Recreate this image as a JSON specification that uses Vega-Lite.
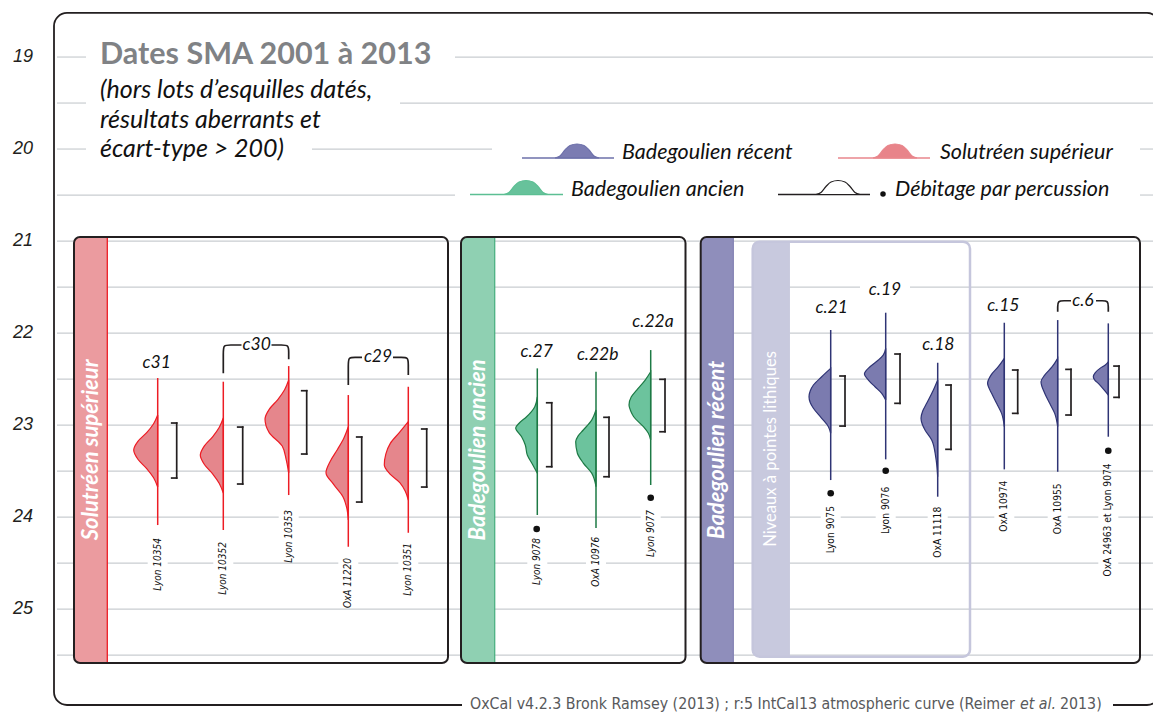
{
"$schema": "https://vega.github.io/schema/vega-lite/v6.json",
"width": 1098, "height": 713,
"padding": {"left": 55, "top": 0, "right": 0, "bottom": 0},
"autosize": {"type": "none"},
"background": "white",
"config": {"view": {"stroke": null}},
"datasets": {
"grid": [
{"a":19,"x":57,"x2":86},{"a":19,"x":455,"x2":1153},
{"a":19.5,"x":57,"x2":86},{"a":19.5,"x":400,"x2":1153},
{"a":20,"x":57,"x2":86},{"a":20,"x":312,"x2":492},{"a":20,"x":1140,"x2":1153},
{"a":20.5,"x":57,"x2":455},{"a":20.5,"x":1140,"x2":1153},
{"a":21,"x":57,"x2":1153},
{"a":21.5,"x":57,"x2":860},{"a":21.5,"x":910,"x2":1153},
{"a":22,"x":57,"x2":1153},{"a":22.5,"x":57,"x2":1153},{"a":23,"x":57,"x2":1153},{"a":23.5,"x":57,"x2":1153},
{"a":24,"x":57,"x2":278.7},{"a":24,"x":298.7,"x2":640.7},{"a":24,"x":660.7,"x2":820.7},{"a":24,"x":840.7,"x2":875.7},{"a":24,"x":895.7,"x2":927.7},{"a":24,"x":947.7,"x2":994.3},{"a":24,"x":1014.3,"x2":1047.7},{"a":24,"x":1067.7,"x2":1098.3},{"a":24,"x":1118.3,"x2":1153},
{"a":24.5,"x":57,"x2":147.7},{"a":24.5,"x":167.7,"x2":213.3},{"a":24.5,"x":233.3,"x2":338.3},{"a":24.5,"x":358.3,"x2":398.3},{"a":24.5,"x":418.3,"x2":527.3},{"a":24.5,"x":547.3,"x2":586},{"a":24.5,"x":606,"x2":1098.3},{"a":24.5,"x":1118.3,"x2":1153},
{"a":25,"x":57,"x2":1153},{"a":25.5,"x":57,"x2":1153}
],
"ylabels": [{"t":"19","x":33,"a":19},{"t":"20","x":33,"a":20},{"t":"21","x":33,"a":21},{"t":"22","x":33,"a":22},{"t":"23","x":33,"a":23},{"t":"24","x":33,"a":24},{"t":"25","x":33,"a":25}],
"bands": [
{"k":"solBand","x":74,"x2":107.3,"a":20.956,"a2":25.587},
{"k":"baBand","x":461,"x2":494.7,"a":20.956,"a2":25.587},
{"k":"brBand","x":700.7,"x2":733.3,"a":20.956,"a2":25.587},
{"k":"niv","x":752.7,"x2":789.3,"a":21.007,"a2":25.518}
],
"panels": [
{"x":74,"x2":448,"a":20.956,"a2":25.587},
{"x":461,"x2":685.5,"a":20.956,"a2":25.587},
{"x":700.7,"x2":1140,"a":20.956,"a2":25.587}
],
"nivbox": [{"x":752.7,"x2":970,"a":21.007,"a2":25.518}],
"frame": [{"x":54,"x2":1160,"a":18.521,"a2":26.043}],
"cover": [{"x":462,"x2":1113,"a":25.967,"a2":26.119}],
"samples": [
{"id":"Lyon 10354","g":"sol","xs":157.7,"top":22.489,"bot":24.087,"bx":176.7,"bxl":171.7,"bt":22.978,"bb":23.576,"lt":24.228},
{"id":"Lyon 10352","g":"sol","xs":223.3,"top":22.529,"bot":24.141,"bx":242.7,"bxl":237.7,"bt":23.022,"bb":23.641,"lt":24.272},
{"id":"Lyon 10353","g":"sol","xs":288.7,"top":22.359,"bot":23.761,"bx":306.7,"bxl":301.7,"bt":22.627,"bb":23.315,"lt":23.924},
{"id":"OxA 11220","g":"sol","xs":348.3,"top":22.674,"bot":24.323,"bx":361.7,"bxl":356.7,"bt":23.13,"bb":23.837,"lt":24.446},
{"id":"Lyon 10351","g":"sol","xs":408.3,"top":22.584,"bot":24.171,"bx":426.7,"bxl":421.7,"bt":23.043,"bb":23.674,"lt":24.283},
{"id":"Lyon 9078","g":"ba","xs":537.3,"top":22.384,"bot":23.978,"bx":551.7,"bxl":546.7,"bt":22.758,"bb":23.453,"lt":24.228},
{"id":"OxA 10976","g":"ba","xs":596,"top":22.421,"bot":24.12,"bx":609,"bxl":604,"bt":22.916,"bb":23.562,"lt":24.214},
{"id":"Lyon 9077","g":"ba","xs":650.7,"top":22.185,"bot":23.652,"bx":665,"bxl":660,"bt":22.503,"bb":23.073,"lt":23.924},
{"id":"Lyon 9075","g":"br","xs":830.7,"top":21.967,"bot":23.598,"bx":845,"bxl":840,"bt":22.467,"bb":23.011,"lt":23.88},
{"id":"Lyon 9076","g":"br","xs":885.7,"top":21.779,"bot":23.373,"bx":900,"bxl":895,"bt":22.228,"bb":22.764,"lt":23.671},
{"id":"OxA 11118","g":"br","xs":937.7,"top":22.323,"bot":23.779,"bx":951,"bxl":946,"bt":22.565,"bb":23.264,"lt":23.888},
{"id":"OxA 10974","g":"br","xs":1004.3,"top":21.888,"bot":23.482,"bx":1017.7,"bxl":1012.7,"bt":22.402,"bb":22.873,"lt":23.605},
{"id":"OxA 10955","g":"br","xs":1057.7,"top":21.859,"bot":23.508,"bx":1071,"bxl":1066,"bt":22.395,"bb":22.891,"lt":23.634},
{"id":"OxA 24963 et Lyon 9074","g":"br","xs":1108.3,"top":21.895,"bot":23.127,"bx":1119,"bxl":1114,"bt":22.359,"bb":22.699,"lt":23.416}
],
"dens": [
{"id":"S1","g":"sol","a":22.891,"xl":157.7,"xs":157.7},{"id":"S1","g":"sol","a":22.986,"xl":153.6,"xs":157.7},{"id":"S1","g":"sol","a":23.082,"xl":146.7,"xs":157.7},{"id":"S1","g":"sol","a":23.177,"xl":137.9,"xs":157.7},{"id":"S1","g":"sol","a":23.272,"xl":133.7,"xs":157.7},{"id":"S1","g":"sol","a":23.372,"xl":137.9,"xs":157.7},{"id":"S1","g":"sol","a":23.473,"xl":146.7,"xs":157.7},{"id":"S1","g":"sol","a":23.573,"xl":153.6,"xs":157.7},{"id":"S1","g":"sol","a":23.674,"xl":157.7,"xs":157.7},
{"id":"S2","g":"sol","a":22.924,"xl":223.3,"xs":223.3},{"id":"S2","g":"sol","a":23.024,"xl":219.3,"xs":223.3},{"id":"S2","g":"sol","a":23.125,"xl":212.8,"xs":223.3},{"id":"S2","g":"sol","a":23.226,"xl":204.4,"xs":223.3},{"id":"S2","g":"sol","a":23.326,"xl":200.3,"xs":223.3},{"id":"S2","g":"sol","a":23.429,"xl":204.4,"xs":223.3},{"id":"S2","g":"sol","a":23.533,"xl":212.8,"xs":223.3},{"id":"S2","g":"sol","a":23.636,"xl":219.3,"xs":223.3},{"id":"S2","g":"sol","a":23.739,"xl":223.3,"xs":223.3},
{"id":"S3","g":"sol","a":22.511,"xl":288.7,"xs":288.7},{"id":"S3","g":"sol","a":22.617,"xl":284.6,"xs":288.7},{"id":"S3","g":"sol","a":22.723,"xl":277.8,"xs":288.7},{"id":"S3","g":"sol","a":22.829,"xl":269.2,"xs":288.7},{"id":"S3","g":"sol","a":22.935,"xl":265.0,"xs":288.7},{"id":"S3","g":"sol","a":23.082,"xl":269.2,"xs":288.7},{"id":"S3","g":"sol","a":23.228,"xl":282.2,"xs":288.7},{"id":"S3","g":"sol","a":23.375,"xl":286.2,"xs":288.7},{"id":"S3","g":"sol","a":23.522,"xl":288.7,"xs":288.7},
{"id":"S4","g":"sol","a":23.018,"xl":348.3,"xs":348.3},{"id":"S4","g":"sol","a":23.143,"xl":343.8,"xs":348.3},{"id":"S4","g":"sol","a":23.268,"xl":337.3,"xs":348.3},{"id":"S4","g":"sol","a":23.393,"xl":330.3,"xs":348.3},{"id":"S4","g":"sol","a":23.518,"xl":326.0,"xs":348.3},{"id":"S4","g":"sol","a":23.647,"xl":333.8,"xs":348.3},{"id":"S4","g":"sol","a":23.776,"xl":342.8,"xs":348.3},{"id":"S4","g":"sol","a":23.904,"xl":346.8,"xs":348.3},{"id":"S4","g":"sol","a":24.033,"xl":348.3,"xs":348.3},
{"id":"S5","g":"sol","a":22.964,"xl":408.3,"xs":408.3},{"id":"S5","g":"sol","a":23.082,"xl":399.3,"xs":408.3},{"id":"S5","g":"sol","a":23.199,"xl":390.3,"xs":408.3},{"id":"S5","g":"sol","a":23.317,"xl":385.8,"xs":408.3},{"id":"S5","g":"sol","a":23.435,"xl":384.3,"xs":408.3},{"id":"S5","g":"sol","a":23.53,"xl":389.8,"xs":408.3},{"id":"S5","g":"sol","a":23.625,"xl":399.8,"xs":408.3},{"id":"S5","g":"sol","a":23.72,"xl":405.3,"xs":408.3},{"id":"S5","g":"sol","a":23.815,"xl":408.3,"xs":408.3},
{"id":"S6","g":"ba","a":22.692,"xl":537.3,"xs":537.3},{"id":"S6","g":"ba","a":22.801,"xl":534.8,"xs":537.3},{"id":"S6","g":"ba","a":22.91,"xl":526.6,"xs":537.3},{"id":"S6","g":"ba","a":22.978,"xl":519.3,"xs":537.3},{"id":"S6","g":"ba","a":23.033,"xl":515.7,"xs":537.3},{"id":"S6","g":"ba","a":23.127,"xl":521.6,"xs":537.3},{"id":"S6","g":"ba","a":23.217,"xl":525.3,"xs":537.3},{"id":"S6","g":"ba","a":23.326,"xl":527.3,"xs":537.3},{"id":"S6","g":"ba","a":23.424,"xl":532.3,"xs":537.3},{"id":"S6","g":"ba","a":23.522,"xl":537.3,"xs":537.3},
{"id":"S7","g":"ba","a":22.837,"xl":596,"xs":596},{"id":"S7","g":"ba","a":22.946,"xl":591.7,"xs":596},{"id":"S7","g":"ba","a":23.054,"xl":583.3,"xs":596},{"id":"S7","g":"ba","a":23.12,"xl":578,"xs":596},{"id":"S7","g":"ba","a":23.182,"xl":575.7,"xs":596},{"id":"S7","g":"ba","a":23.304,"xl":577.3,"xs":596},{"id":"S7","g":"ba","a":23.413,"xl":583.3,"xs":596},{"id":"S7","g":"ba","a":23.522,"xl":591.7,"xs":596},{"id":"S7","g":"ba","a":23.671,"xl":596,"xs":596},
{"id":"S8","g":"ba","a":22.421,"xl":650.7,"xs":650.7},{"id":"S8","g":"ba","a":22.511,"xl":645.2,"xs":650.7},{"id":"S8","g":"ba","a":22.62,"xl":636.7,"xs":650.7},{"id":"S8","g":"ba","a":22.696,"xl":631.2,"xs":650.7},{"id":"S8","g":"ba","a":22.783,"xl":629.0,"xs":650.7},{"id":"S8","g":"ba","a":22.848,"xl":630.7,"xs":650.7},{"id":"S8","g":"ba","a":22.91,"xl":633.7,"xs":650.7},{"id":"S8","g":"ba","a":23.018,"xl":643.4,"xs":650.7},{"id":"S8","g":"ba","a":23.09,"xl":648.4,"xs":650.7},{"id":"S8","g":"ba","a":23.163,"xl":650.7,"xs":650.7},
{"id":"S9","g":"br","a":22.384,"xl":830.7,"xs":830.7},{"id":"S9","g":"br","a":22.475,"xl":821.7,"xs":830.7},{"id":"S9","g":"br","a":22.565,"xl":813.4,"xs":830.7},{"id":"S9","g":"br","a":22.63,"xl":810.2,"xs":830.7},{"id":"S9","g":"br","a":22.692,"xl":809.0,"xs":830.7},{"id":"S9","g":"br","a":22.755,"xl":810.2,"xs":830.7},{"id":"S9","g":"br","a":22.818,"xl":813.4,"xs":830.7},{"id":"S9","g":"br","a":22.927,"xl":821.7,"xs":830.7},{"id":"S9","g":"br","a":23.018,"xl":828.4,"xs":830.7},{"id":"S9","g":"br","a":23.09,"xl":830.7,"xs":830.7},
{"id":"S10","g":"br","a":22.166,"xl":885.7,"xs":885.7},{"id":"S10","g":"br","a":22.239,"xl":883.2,"xs":885.7},{"id":"S10","g":"br","a":22.293,"xl":878.4,"xs":885.7},{"id":"S10","g":"br","a":22.366,"xl":870.0,"xs":885.7},{"id":"S10","g":"br","a":22.446,"xl":864.4,"xs":885.7},{"id":"S10","g":"br","a":22.511,"xl":868.4,"xs":885.7},{"id":"S10","g":"br","a":22.584,"xl":875.0,"xs":885.7},{"id":"S10","g":"br","a":22.655,"xl":881.7,"xs":885.7},{"id":"S10","g":"br","a":22.728,"xl":885.7,"xs":885.7},
{"id":"S11","g":"br","a":22.511,"xl":937.7,"xs":937.7},{"id":"S11","g":"br","a":22.62,"xl":933.4,"xs":937.7},{"id":"S11","g":"br","a":22.764,"xl":926.7,"xs":937.7},{"id":"S11","g":"br","a":22.848,"xl":922.7,"xs":937.7},{"id":"S11","g":"br","a":22.927,"xl":921.0,"xs":937.7},{"id":"S11","g":"br","a":22.989,"xl":922.2,"xs":937.7},{"id":"S11","g":"br","a":23.054,"xl":925.0,"xs":937.7},{"id":"S11","g":"br","a":23.163,"xl":931.7,"xs":937.7},{"id":"S11","g":"br","a":23.345,"xl":935.7,"xs":937.7},{"id":"S11","g":"br","a":23.562,"xl":937.7,"xs":937.7},
{"id":"S12","g":"br","a":22.275,"xl":1004.3,"xs":1004.3},{"id":"S12","g":"br","a":22.366,"xl":998.3,"xs":1004.3},{"id":"S12","g":"br","a":22.457,"xl":991.0,"xs":1004.3},{"id":"S12","g":"br","a":22.547,"xl":987.6,"xs":1004.3},{"id":"S12","g":"br","a":22.655,"xl":991.6,"xs":1004.3},{"id":"S12","g":"br","a":22.764,"xl":996.6,"xs":1004.3},{"id":"S12","g":"br","a":22.873,"xl":1001.6,"xs":1004.3},{"id":"S12","g":"br","a":23.018,"xl":1004.3,"xs":1004.3},
{"id":"S13","g":"br","a":22.275,"xl":1057.7,"xs":1057.7},{"id":"S13","g":"br","a":22.366,"xl":1052.2,"xs":1057.7},{"id":"S13","g":"br","a":22.457,"xl":1044.7,"xs":1057.7},{"id":"S13","g":"br","a":22.529,"xl":1041.0,"xs":1057.7},{"id":"S13","g":"br","a":22.655,"xl":1044.7,"xs":1057.7},{"id":"S13","g":"br","a":22.764,"xl":1049.7,"xs":1057.7},{"id":"S13","g":"br","a":22.873,"xl":1054.7,"xs":1057.7},{"id":"S13","g":"br","a":23.018,"xl":1057.7,"xs":1057.7},
{"id":"S14","g":"br","a":22.312,"xl":1108.3,"xs":1108.3},{"id":"S14","g":"br","a":22.348,"xl":1105.3,"xs":1108.3},{"id":"S14","g":"br","a":22.384,"xl":1100.0,"xs":1108.3},{"id":"S14","g":"br","a":22.429,"xl":1095.3,"xs":1108.3},{"id":"S14","g":"br","a":22.475,"xl":1093.3,"xs":1108.3},{"id":"S14","g":"br","a":22.511,"xl":1094.8,"xs":1108.3},{"id":"S14","g":"br","a":22.547,"xl":1098.3,"xs":1108.3},{"id":"S14","g":"br","a":22.62,"xl":1104.3,"xs":1108.3},{"id":"S14","g":"br","a":22.674,"xl":1108.3,"xs":1108.3}
],
"dots": [{"x":536.7,"a":24.13},{"x":650.7,"a":23.79},{"x":830.7,"a":23.742},{"x":885.7,"a":23.497},{"x":1108.3,"a":23.279}],
"groups": [
{"t":"c31","x":156.7,"a":22.323},{"t":"c30","x":256.7,"a":22.13},{"t":"c29","x":378,"a":22.264},
{"t":"c.27","x":536.7,"a":22.203},{"t":"c.22b","x":597.7,"a":22.239},{"t":"c.22a","x":653,"a":21.88},
{"t":"c.21","x":831.7,"a":21.732},{"t":"c.19","x":885,"a":21.533},{"t":"c.18","x":938.3,"a":22.13},
{"t":"c.15","x":1003.3,"a":21.707},{"t":"c.6","x":1083,"a":21.649}
],
"braces": [
{"k":"c30L","o":0,"x":223.3,"a":22.438},{"k":"c30L","o":1,"x":223.3,"a":22.21},{"k":"c30L","o":2,"x":223.3,"a":22.13},{"k":"c30L","o":3,"x":230,"a":22.13},{"k":"c30L","o":4,"x":241.5,"a":22.13},
{"k":"c30R","o":0,"x":271.5,"a":22.13},{"k":"c30R","o":1,"x":282,"a":22.13},{"k":"c30R","o":2,"x":288.7,"a":22.13},{"k":"c30R","o":3,"x":288.7,"a":22.21},{"k":"c30R","o":4,"x":288.7,"a":22.286},
{"k":"c29L","o":0,"x":348.3,"a":22.565},{"k":"c29L","o":1,"x":348.3,"a":22.34},{"k":"c29L","o":2,"x":348.3,"a":22.264},{"k":"c29L","o":3,"x":355,"a":22.264},{"k":"c29L","o":4,"x":362,"a":22.264},
{"k":"c29R","o":0,"x":393,"a":22.264},{"k":"c29R","o":1,"x":401.5,"a":22.264},{"k":"c29R","o":2,"x":408.3,"a":22.264},{"k":"c29R","o":3,"x":408.3,"a":22.34},{"k":"c29R","o":4,"x":408.3,"a":22.457},
{"k":"c6L","o":0,"x":1057.7,"a":21.768},{"k":"c6L","o":1,"x":1057.7,"a":21.72},{"k":"c6L","o":2,"x":1057.7,"a":21.649},{"k":"c6L","o":3,"x":1064,"a":21.649},{"k":"c6L","o":4,"x":1071,"a":21.649},
{"k":"c6R","o":0,"x":1096,"a":21.649},{"k":"c6R","o":1,"x":1102,"a":21.649},{"k":"c6R","o":2,"x":1108.3,"a":21.649},{"k":"c6R","o":3,"x":1108.3,"a":21.72},{"k":"c6R","o":4,"x":1108.3,"a":21.768}
],
"bandtitles": [
{"t":"Solutréen supérieur","x":90.7,"a":23.27},
{"t":"Badegoulien ancien","x":477.8,"a":23.27},
{"t":"Badegoulien récent","x":717,"a":23.27}
],
"nivtitle": [{"t":"Niveaux à pointes lithiques","x":771,"a":23.26}],
"title": [{"t":"Dates SMA 2001 à 2013","x":100,"a":19.076}],
"subtitle": [
{"t":"(hors lots d’esquilles datés,","x":100,"a":19.445},
{"t":"résultats aberrants et","x":100,"a":19.771},
{"t":"écart-type > 200)","x":100,"a":20.087}
],
"lgline": [
{"k":"lgBR","x":522,"x2":614,"a":20.097},
{"k":"lgSol","x":838,"x2":930,"a":20.097},
{"k":"lgBA","x":470,"x2":563,"a":20.494},
{"k":"lgDeb","x":778,"x2":870,"a":20.494}
],
"lgbump": [
{"k":"lgBR","x":555,"a":20.097,"b":20.097},{"k":"lgBR","x":560,"a":20.075,"b":20.097},{"k":"lgBR","x":565,"a":20.01,"b":20.097},{"k":"lgBR","x":570,"a":19.961,"b":20.097},{"k":"lgBR","x":577,"a":19.945,"b":20.097},{"k":"lgBR","x":584,"a":19.961,"b":20.097},{"k":"lgBR","x":589,"a":20.01,"b":20.097},{"k":"lgBR","x":594,"a":20.075,"b":20.097},{"k":"lgBR","x":599,"a":20.097,"b":20.097},
{"k":"lgSol","x":873,"a":20.097,"b":20.097},{"k":"lgSol","x":878,"a":20.075,"b":20.097},{"k":"lgSol","x":883,"a":20.01,"b":20.097},{"k":"lgSol","x":888,"a":19.961,"b":20.097},{"k":"lgSol","x":895,"a":19.945,"b":20.097},{"k":"lgSol","x":902,"a":19.961,"b":20.097},{"k":"lgSol","x":907,"a":20.01,"b":20.097},{"k":"lgSol","x":912,"a":20.075,"b":20.097},{"k":"lgSol","x":917,"a":20.097,"b":20.097},
{"k":"lgBA","x":504,"a":20.494,"b":20.494},{"k":"lgBA","x":509,"a":20.472,"b":20.494},{"k":"lgBA","x":514,"a":20.407,"b":20.494},{"k":"lgBA","x":519,"a":20.358,"b":20.494},{"k":"lgBA","x":526,"a":20.342,"b":20.494},{"k":"lgBA","x":533,"a":20.358,"b":20.494},{"k":"lgBA","x":538,"a":20.407,"b":20.494},{"k":"lgBA","x":543,"a":20.472,"b":20.494},{"k":"lgBA","x":548,"a":20.494,"b":20.494},
{"k":"lgDeb","x":816,"a":20.494,"b":20.494},{"k":"lgDeb","x":821,"a":20.472,"b":20.494},{"k":"lgDeb","x":826,"a":20.407,"b":20.494},{"k":"lgDeb","x":831,"a":20.358,"b":20.494},{"k":"lgDeb","x":838,"a":20.342,"b":20.494},{"k":"lgDeb","x":845,"a":20.358,"b":20.494},{"k":"lgDeb","x":850,"a":20.407,"b":20.494},{"k":"lgDeb","x":855,"a":20.472,"b":20.494},{"k":"lgDeb","x":860,"a":20.494,"b":20.494}
],
"lgdot": [{"x":883,"a":20.489}],
"lgtext": [
{"t":"Badegoulien récent","x":622,"a":20.046},
{"t":"Solutréen supérieur","x":940,"a":20.046},
{"t":"Badegoulien ancien","x":571,"a":20.445},
{"t":"Débitage par percussion","x":895,"a":20.445}
],
"creditA": [{"t":"OxCal v4.2.3 Bronk Ramsey (2013) ; r:5 IntCal13 atmospheric curve (Reimer","x":470,"a":26.032}],
"creditB": [{"t":"et al.","x":1020,"a":26.032}],
"creditC": [{"t":"2013)","x":1060,"a":26.032}]
},
"layer": [
{"data":{"name":"grid"},"mark":{"type":"rule","stroke":"#c9cdd1","strokeWidth":1.2},
 "encoding":{"x":{"field":"x","type":"quantitative","scale":{"domain":[55,1153],"nice":false,"zero":false},"axis":null},"x2":{"field":"x2"},
 "y":{"field":"a","type":"quantitative","scale":{"domain":[18.38,26.13],"reverse":true,"nice":false,"zero":false},"axis":null}}},
{"data":{"name":"ylabels"},"mark":{"type":"text","align":"right","baseline":"middle","font":"Liberation Sans","fontStyle":"italic","fontSize":18,"fill":"#231f20"},
 "encoding":{"x":{"field":"x","type":"quantitative","axis":null},"y":{"field":"a","type":"quantitative","axis":null},"text":{"field":"t"}}},
{"data":{"name":"bands"},"mark":{"type":"rect","cornerRadiusTopLeft":5,"cornerRadiusBottomLeft":5},
 "encoding":{"x":{"field":"x","type":"quantitative","axis":null},"x2":{"field":"x2"},"y":{"field":"a","type":"quantitative","axis":null},"y2":{"field":"a2"},
 "fill":{"field":"k","type":"nominal","legend":null,"scale":{"domain":["sol","ba","br","solBand","baBand","brBand","niv","lgSol","lgBA","lgBR","lgDeb"],"range":["#e5868c","#6cc39d","#7b7baf","#eb9b9f","#8fd0b2","#8f8ebb","#c8c9de","#e8848a","#67c29b","#7b7cb2","#ffffff"]}}}},
{"data":{"name":"bands"},"mark":{"type":"rule","strokeWidth":1.3},
 "encoding":{"x":{"field":"x2","type":"quantitative","axis":null},"y":{"field":"a","type":"quantitative","axis":null},"y2":{"field":"a2"},
 "stroke":{"field":"k","type":"nominal","legend":null,"scale":{"domain":["sol","ba","br","solBand","baBand","brBand","niv","lgSol","lgBA","lgBR","lgDeb"],"range":["#ed1c24","#1d7a45","#2f3475","#ed1c24","#4db183","#8584b5","#c8c9de","#e9868c","#5cbf93","#6d70aa","#231f20"]}}}},
{"data":{"name":"panels"},"mark":{"type":"rect","fill":"white","fillOpacity":0,"stroke":"#231f20","strokeWidth":2,"cornerRadius":6},
 "encoding":{"x":{"field":"x","type":"quantitative","axis":null},"x2":{"field":"x2"},"y":{"field":"a","type":"quantitative","axis":null},"y2":{"field":"a2"}}},
{"data":{"name":"nivbox"},"mark":{"type":"rect","fill":"white","fillOpacity":0,"stroke":"#c5c6dc","strokeWidth":2.5,"cornerRadius":7},
 "encoding":{"x":{"field":"x","type":"quantitative","axis":null},"x2":{"field":"x2"},"y":{"field":"a","type":"quantitative","axis":null},"y2":{"field":"a2"}}},
{"data":{"name":"frame"},"mark":{"type":"rect","fill":"white","fillOpacity":0,"stroke":"#231f20","strokeWidth":1.8,"cornerRadius":13},
 "encoding":{"x":{"field":"x","type":"quantitative","axis":null},"x2":{"field":"x2"},"y":{"field":"a","type":"quantitative","axis":null},"y2":{"field":"a2"}}},
{"data":{"name":"cover"},"mark":{"type":"rect","fill":"white"},
 "encoding":{"x":{"field":"x","type":"quantitative","axis":null},"x2":{"field":"x2"},"y":{"field":"a","type":"quantitative","axis":null},"y2":{"field":"a2"}}},
{"data":{"name":"creditA"},"mark":{"type":"text","align":"left","baseline":"middle","font":"DejaVu Sans Condensed","fontSize":15.8,"fill":"#58595b"},
 "encoding":{"x":{"field":"x","type":"quantitative","axis":null},"y":{"field":"a","type":"quantitative","axis":null},"text":{"field":"t"}}},
{"data":{"name":"creditB"},"mark":{"type":"text","align":"left","baseline":"middle","font":"DejaVu Sans Condensed","fontStyle":"italic","fontSize":15.8,"fill":"#58595b"},
 "encoding":{"x":{"field":"x","type":"quantitative","axis":null},"y":{"field":"a","type":"quantitative","axis":null},"text":{"field":"t"}}},
{"data":{"name":"creditC"},"mark":{"type":"text","align":"left","baseline":"middle","font":"DejaVu Sans Condensed","fontSize":15.8,"fill":"#58595b"},
 "encoding":{"x":{"field":"x","type":"quantitative","axis":null},"y":{"field":"a","type":"quantitative","axis":null},"text":{"field":"t"}}},
{"data":{"name":"dens"},"mark":{"type":"area","orient":"horizontal","interpolate":"monotone","strokeWidth":1.2},
 "encoding":{"y":{"field":"a","type":"quantitative","axis":null},"x":{"field":"xl","type":"quantitative","axis":null},"x2":{"field":"xs"},"detail":{"field":"id"},
 "fill":{"field":"g","type":"nominal","legend":null,"scale":{"domain":["sol","ba","br","solBand","baBand","brBand","niv","lgSol","lgBA","lgBR","lgDeb"],"range":["#e5868c","#6cc39d","#7b7baf","#eb9b9f","#8fd0b2","#8f8ebb","#c8c9de","#e8848a","#67c29b","#7b7cb2","#ffffff"]}},
 "stroke":{"field":"g","type":"nominal","legend":null,"scale":{"domain":["sol","ba","br","solBand","baBand","brBand","niv","lgSol","lgBA","lgBR","lgDeb"],"range":["#ed1c24","#1d7a45","#2f3475","#ed1c24","#4db183","#8584b5","#c8c9de","#e9868c","#5cbf93","#6d70aa","#231f20"]}}}},
{"data":{"name":"samples"},"mark":{"type":"rule","strokeWidth":1.5},
 "encoding":{"x":{"field":"xs","type":"quantitative","axis":null},"y":{"field":"top","type":"quantitative","axis":null},"y2":{"field":"bot"},
 "stroke":{"field":"g","type":"nominal","legend":null,"scale":{"domain":["sol","ba","br","solBand","baBand","brBand","niv","lgSol","lgBA","lgBR","lgDeb"],"range":["#ed1c24","#1d7a45","#2f3475","#ed1c24","#4db183","#8584b5","#c8c9de","#e9868c","#5cbf93","#6d70aa","#231f20"]}}}},
{"data":{"name":"samples"},"mark":{"type":"rule","stroke":"#231f20","strokeWidth":1.7,"strokeCap":"square"},
 "encoding":{"x":{"field":"bx","type":"quantitative","axis":null},"y":{"field":"bt","type":"quantitative","axis":null},"y2":{"field":"bb"}}},
{"data":{"name":"samples"},"mark":{"type":"rule","stroke":"#231f20","strokeWidth":1.7,"strokeCap":"square"},
 "encoding":{"x":{"field":"bxl","type":"quantitative","axis":null},"x2":{"field":"bx"},"y":{"field":"bt","type":"quantitative","axis":null}}},
{"data":{"name":"samples"},"mark":{"type":"rule","stroke":"#231f20","strokeWidth":1.7,"strokeCap":"square"},
 "encoding":{"x":{"field":"bxl","type":"quantitative","axis":null},"x2":{"field":"bx"},"y":{"field":"bb","type":"quantitative","axis":null}}},
{"data":{"name":"dots"},"mark":{"type":"circle","fill":"#111","size":44,"opacity":1},
 "encoding":{"x":{"field":"x","type":"quantitative","axis":null},"y":{"field":"a","type":"quantitative","axis":null}}},
{"data":{"name":"samples"},"transform":[{"filter":"datum.g != 'br'"}],"mark":{"type":"text","angle":270,"align":"right","baseline":"middle","font":"DejaVu Sans Condensed","fontStyle":"italic","fontSize":10,"fill":"#111"},
 "encoding":{"x":{"field":"xs","type":"quantitative","axis":null},"y":{"field":"lt","type":"quantitative","axis":null},"text":{"field":"id"}}},
{"data":{"name":"samples"},"transform":[{"filter":"datum.g == 'br'"}],"mark":{"type":"text","angle":270,"align":"right","baseline":"middle","font":"DejaVu Sans Condensed","fontSize":10.2,"fill":"#111"},
 "encoding":{"x":{"field":"xs","type":"quantitative","axis":null},"y":{"field":"lt","type":"quantitative","axis":null},"text":{"field":"id"}}},
{"data":{"name":"groups"},"mark":{"type":"text","align":"center","baseline":"middle","font":"Lato","fontStyle":"italic","fontSize":17.5,"fill":"#111"},
 "encoding":{"x":{"field":"x","type":"quantitative","axis":null},"y":{"field":"a","type":"quantitative","axis":null},"text":{"field":"t"}}},
{"data":{"name":"braces"},"mark":{"type":"line","interpolate":"basis","stroke":"#231f20","strokeWidth":1.7},
 "encoding":{"x":{"field":"x","type":"quantitative","axis":null},"y":{"field":"a","type":"quantitative","axis":null},"detail":{"field":"k"},"order":{"field":"o"}}},
{"data":{"name":"bandtitles"},"mark":{"type":"text","angle":270,"align":"center","baseline":"middle","font":"Lato","fontStyle":"italic","fontWeight":"bold","fontSize":22,"fill":"white"},
 "encoding":{"x":{"field":"x","type":"quantitative","axis":null},"y":{"field":"a","type":"quantitative","axis":null},"text":{"field":"t"}}},
{"data":{"name":"nivtitle"},"mark":{"type":"text","angle":270,"align":"center","baseline":"middle","font":"Lato","fontSize":16.6,"fill":"white"},
 "encoding":{"x":{"field":"x","type":"quantitative","axis":null},"y":{"field":"a","type":"quantitative","axis":null},"text":{"field":"t"}}},
{"data":{"name":"title"},"mark":{"type":"text","align":"left","baseline":"alphabetic","font":"Lato","fontWeight":"bold","fontSize":30.5,"fill":"#808285"},
 "encoding":{"x":{"field":"x","type":"quantitative","axis":null},"y":{"field":"a","type":"quantitative","axis":null},"text":{"field":"t"}}},
{"data":{"name":"subtitle"},"mark":{"type":"text","align":"left","baseline":"alphabetic","font":"Lato","fontStyle":"italic","fontSize":25,"fill":"#111"},
 "encoding":{"x":{"field":"x","type":"quantitative","axis":null},"y":{"field":"a","type":"quantitative","axis":null},"text":{"field":"t"}}},
{"data":{"name":"lgline"},"mark":{"type":"rule","strokeWidth":1.5},
 "encoding":{"x":{"field":"x","type":"quantitative","axis":null},"x2":{"field":"x2"},"y":{"field":"a","type":"quantitative","axis":null},
 "stroke":{"field":"k","type":"nominal","legend":null,"scale":{"domain":["sol","ba","br","solBand","baBand","brBand","niv","lgSol","lgBA","lgBR","lgDeb"],"range":["#ed1c24","#1d7a45","#2f3475","#ed1c24","#4db183","#8584b5","#c8c9de","#e9868c","#5cbf93","#6d70aa","#231f20"]}}}},
{"data":{"name":"lgbump"},"mark":{"type":"area","orient":"vertical","interpolate":"monotone","strokeWidth":1.2},
 "encoding":{"x":{"field":"x","type":"quantitative","axis":null},"y":{"field":"a","type":"quantitative","axis":null},"y2":{"field":"b"},"detail":{"field":"k"},
 "fill":{"field":"k","type":"nominal","legend":null,"scale":{"domain":["sol","ba","br","solBand","baBand","brBand","niv","lgSol","lgBA","lgBR","lgDeb"],"range":["#e5868c","#6cc39d","#7b7baf","#eb9b9f","#8fd0b2","#8f8ebb","#c8c9de","#e8848a","#67c29b","#7b7cb2","#ffffff"]}},
 "stroke":{"field":"k","type":"nominal","legend":null,"scale":{"domain":["sol","ba","br","solBand","baBand","brBand","niv","lgSol","lgBA","lgBR","lgDeb"],"range":["#ed1c24","#1d7a45","#2f3475","#ed1c24","#4db183","#8584b5","#c8c9de","#e9868c","#5cbf93","#6d70aa","#231f20"]}}}},
{"data":{"name":"lgdot"},"mark":{"type":"circle","fill":"#111","size":30,"opacity":1},
 "encoding":{"x":{"field":"x","type":"quantitative","axis":null},"y":{"field":"a","type":"quantitative","axis":null}}},
{"data":{"name":"lgtext"},"mark":{"type":"text","align":"left","baseline":"middle","font":"Lato","fontStyle":"italic","fontSize":21.5,"fill":"#111"},
 "encoding":{"x":{"field":"x","type":"quantitative","axis":null},"y":{"field":"a","type":"quantitative","axis":null},"text":{"field":"t"}}}
]
}
